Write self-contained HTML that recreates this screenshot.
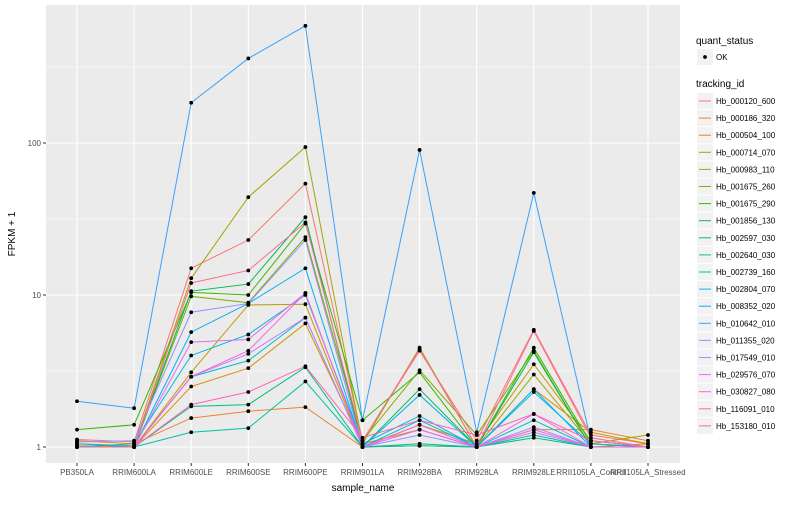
<!DOCTYPE html>
<html><head><meta charset="utf-8"><style>
body{margin:0;background:#fff;font-family:"Liberation Sans",sans-serif}
svg text{font-family:"Liberation Sans",sans-serif}
</style></head><body>
<svg id="c" width="800" height="500" xmlns="http://www.w3.org/2000/svg"></svg>
<script>
const categories=["PB350LA","RRIM600LA","RRIM600LE","RRIM600SE","RRIM600PE","RRIM901LA","RRIM928BA","RRIM928LA","RRIM928LE","RRII105LA_Control","RRII105LA_Stressed"];
const seriesNames=["Hb_000120_600","Hb_000186_320","Hb_000504_100","Hb_000714_070","Hb_000983_110","Hb_001675_260","Hb_001675_290","Hb_001856_130","Hb_002597_030","Hb_002640_030","Hb_002739_160","Hb_002804_070","Hb_008352_020","Hb_010642_010","Hb_011355_020","Hb_017549_010","Hb_029576_070","Hb_030827_080","Hb_116091_010","Hb_153180_010"];
const colors=["#F8766D","#EA8331","#D89000","#C09B00","#A3A500","#7CAE00","#39B600","#00BB4E","#00BF7D","#00C1A3","#00BFC4","#00BAE0","#00B0F6","#35A2FF","#9590FF","#C77CFF","#E76BF3","#FA62DB","#FF62BC","#FF6C91"];
const v000120=[1.12,1.08,15,23,54,1.1,4.3,1.1,5.9,1.2,1.05];
const v000186=[1.1,1.05,1.55,1.72,1.83,1.0,1.02,1.0,1.3,1.3,1.1];
const v000504=[1.0,1.0,2.5,3.3,6.5,1.05,1.3,1.0,2.4,1.25,1.05];
const v000714=[1.02,1.0,3.1,8.6,8.7,1.0,1.4,1.05,3.5,1.1,1.0];
const v000983=[1.05,1.02,12.9,44,94,1.05,4.5,1.0,3.0,1.05,1.2];
const v001675a=[1.0,1.0,9.8,8.9,24,1.1,3.2,1.2,4.3,1.0,1.05];
const v001675b=[1.3,1.4,10.4,10,29.5,1.5,3.1,1.0,4.5,1.05,1.0];
const v001856=[1.0,1.0,10.6,11.8,32.5,1.0,2.4,1.0,4.2,1.0,1.0];
const v002597=[1.0,1.0,1.85,1.9,3.35,1.0,1.05,1.0,1.15,1.0,1.0];
const v002640=[1.0,1.0,1.25,1.33,2.7,1.0,1.02,1.0,1.2,1.0,1.0];
const v002739=[1.0,1.0,2.9,3.7,7.1,1.0,1.5,1.0,1.5,1.0,1.0];
const v002804=[1.0,1.05,4.0,5.5,10,1.05,1.6,1.0,2.3,1.05,1.0];
const v008352=[1.05,1.0,5.7,8.8,15,1.0,2.2,1.0,2.4,1.0,1.0];
const v010642=[2.0,1.8,184,360,590,1.5,90,1.25,47,1.1,1.0];
const v011355=[1.08,1.1,7.7,8.8,23,1.0,1.2,1.0,1.35,1.0,1.0];
const v017549=[1.0,1.0,2.9,4.1,7.1,1.0,1.3,1.0,1.25,1.0,1.0];
const v029576=[1.0,1.0,4.9,5.1,10.3,1.0,1.3,1.0,1.65,1.0,1.0];
const v030827=[1.0,1.0,2.9,4.3,10.3,1.0,1.4,1.0,1.3,1.0,1.0];
const v116091=[1.0,1.0,1.9,2.3,3.4,1.15,1.5,1.2,1.65,1.1,1.0];
const v153180=[1.0,1.0,12,14.5,30,1.1,4.4,1.0,5.8,1.15,1.0];
const seriesValues=[v000120,v000186,v000504,v000714,v000983,v001675a,v001675b,v001856,v002597,v002640,v002739,v002804,v008352,v010642,v011355,v017549,v029576,v030827,v116091,v153180];
const yTicks=[1,10,100];

const NS="http://www.w3.org/2000/svg";
const svg=document.getElementById('c');
function mk(t,a,p){const e=document.createElementNS(NS,t);for(const k in a)e.setAttribute(k,a[k]);(p||svg).appendChild(e);return e;}
const PL=46,PR=680,PT=5,PB=463;
const xs=i=>77+i*(648-77)/(categories.length-1);
const ys=v=>447-152*Math.log10(v);

const panel=mk('rect',{x:PL,y:PT,width:PR-PL,height:PB-PT,fill:'#EBEBEB'});


[0.5,1.5,2.5].forEach(d=>{const y=447-152*d;if(y>PT){const l=mk('line',{x1:PL,x2:PR,y1:y,y2:y,stroke:'#fff','stroke-width':0.5});}});
yTicks.forEach(t=>{const y=ys(t);const l=mk('line',{x1:PL,x2:PR,y1:y,y2:y,stroke:'#fff','stroke-width':1.1});

mk('line',{x1:PL-3,x2:PL,y1:y,y2:y,stroke:'#333'});
const tx=mk('text',{x:PL-5,y:y+3,'text-anchor':'end','font-size':8,fill:'#4D4D4D'});tx.textContent=t;
});
categories.forEach((c,i)=>{const x=xs(i);const l=mk('line',{x1:x,x2:x,y1:PT,y2:PB,stroke:'#fff','stroke-width':1.1});

mk('line',{x1:x,x2:x,y1:PB,y2:PB+3,stroke:'#333'});
const tx=mk('text',{x:x,y:475,'text-anchor':'middle','font-size':8,fill:'#4D4D4D'});tx.textContent=c;
});

seriesValues.forEach((vals,s)=>{
 const g=mk('g',{});
 
 
 const pts=vals.map((v,i)=>xs(i)+','+ys(v)).join(' ');
 const pl=mk('polyline',{points:pts,fill:'none',stroke:colors[s],'stroke-width':1},g);
 
 
});
seriesValues.forEach((vals,s)=>{vals.forEach((v,i)=>{
 const c=mk('circle',{cx:xs(i),cy:ys(v),r:1.9,fill:'#000'});
 
 
});});

const yt=mk('text',{x:15,y:234,'text-anchor':'middle','font-size':10,transform:'rotate(-90 15 234)'});yt.textContent='FPKM + 1';

const xt=mk('text',{x:363,y:491,'text-anchor':'middle','font-size':10});xt.textContent='sample_name';


const lt1=mk('text',{x:696,y:44,'font-size':10});lt1.textContent='quant_status';

mk('rect',{x:697,y:49,width:16,height:16,fill:'#F2F2F2'});
mk('circle',{cx:705,cy:57,r:1.9,fill:'#000'});
const ok=mk('text',{x:716,y:60,'font-size':8});ok.textContent='OK';

const lt2=mk('text',{x:696,y:87,'font-size':10});lt2.textContent='tracking_id';

seriesNames.forEach((n,i)=>{const y=101+i*17.1;
 const g=mk('g',{});
 
 
 mk('rect',{x:697,y:y-8,width:16,height:16,fill:'#F2F2F2'},g);
 mk('line',{x1:699,x2:711,y1:y,y2:y,stroke:colors[i],'stroke-width':1},g);
 const t=mk('text',{x:716,y:y+3,'font-size':8,fill:'#000'},g);t.textContent=n;});
</script>
</body></html>
